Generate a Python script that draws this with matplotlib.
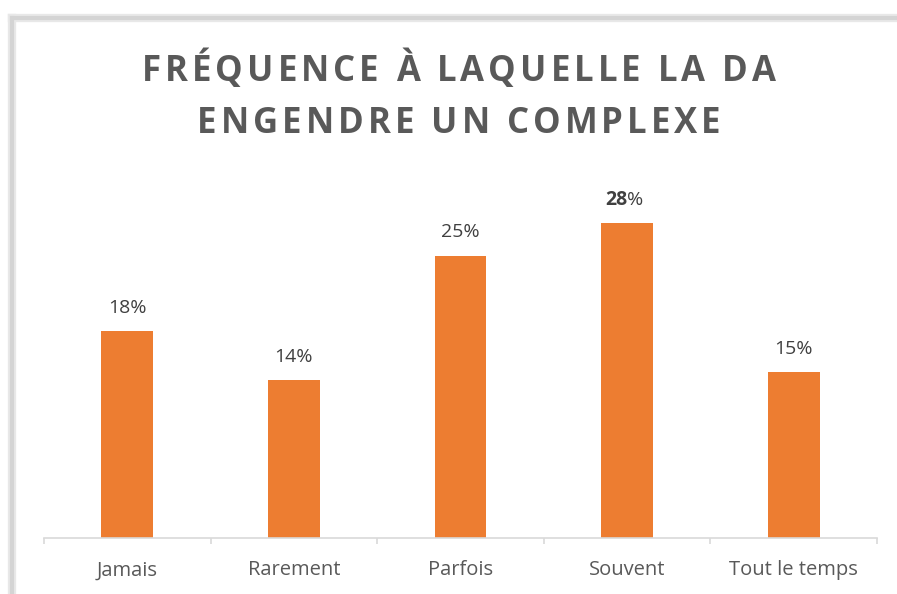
import matplotlib
matplotlib.use('Agg')
import matplotlib.pyplot as plt
from matplotlib.font_manager import FontProperties
from matplotlib.lines import Line2D

categories = ['Jamais', 'Rarement', 'Parfois', 'Souvent', 'Tout le temps']
values = [18.3, 14.0, 25.0, 27.9, 14.7]
labels = ['18%', '14%', '25%', '28%', '15%']
title_lines = ['FRÉQUENCE À LAQUELLE LA DA', 'ENGENDRE UN COMPLEXE']

orange = '#ED7D31'
W, H = 897, 594

fig = plt.figure(figsize=(W / 100, H / 100), dpi=100)
fig.patch.set_facecolor('white')

# frame with soft shadow (the chart is cropped on the right and bottom)
for c, lw in [('#e8e8e8', 6), ('#d4d4d4', 3)]:
    fig.add_artist(Line2D([12 / W, 12 / W], [0, 1 - 18 / H], color=c, lw=lw,
                          transform=fig.transFigure))
    fig.add_artist(Line2D([12 / W, 1], [1 - 18 / H, 1 - 18 / H], color=c, lw=lw,
                          transform=fig.transFigure))

ax = fig.add_axes([44 / W, 56 / H, (877 - 44) / W, (538 - 199) / H])
x = list(range(len(categories)))
ax.bar(x, values, width=0.31, color=orange, zorder=2)
ax.set_xlim(-0.5, len(categories) - 0.5)
ax.set_ylim(0, 30)
ax.set_yticks([])
for s in ['top', 'right', 'left']:
    ax.spines[s].set_visible(False)
ax.spines['bottom'].set_color('#d9d9d9')
ax.spines['bottom'].set_linewidth(1.2)
ax.set_xticks([i - 0.5 for i in range(len(categories) + 1)], minor=False)
ax.set_xticklabels([])
ax.tick_params(axis='x', which='major', length=4.5, color='#d9d9d9', width=1.2)
ax.set_xticks(x, minor=True)
ax.set_xticklabels(categories, minor=True, fontsize=14.5, color='#595959', family='Open Sans')
ax.tick_params(axis='x', which='minor', length=0, pad=16)

for i, (v, lab) in enumerate(zip(values, labels)):
    if lab == '28%':
        ax.annotate('28', (i, v), xytext=(0, 13), textcoords='offset points',
                    ha='right', va='baseline', fontsize=14, color='#404040',
                    family='Open Sans', fontweight='bold')
        ax.annotate('%', (i, v), xytext=(0, 13), textcoords='offset points',
                    ha='left', va='baseline', fontsize=14, color='#404040',
                    family='Open Sans')
    else:
        ax.annotate(lab, (i, v), xytext=(0, 13), textcoords='offset points',
                    ha='center', va='baseline', fontsize=14, color='#404040',
                    family='Open Sans')

# title with letter spacing, drawn char by char
renderer = fig.canvas.get_renderer()
prop = FontProperties(family='Open Sans', weight='bold', size=25)
spacing = 4.0
cx = 459
for line, cy in zip(title_lines, [72, 124]):
    widths = [renderer.get_text_width_height_descent(ch, prop, ismath=False)[0] for ch in line]
    total = sum(widths) + spacing * (len(line) - 1)
    px = cx - total / 2
    for ch, w in zip(line, widths):
        fig.text(px / W, 1 - cy / H, ch, fontproperties=prop, color='#595959',
                 ha='left', va='center')
        px += w + spacing

fig.savefig('out.png', dpi=100)
